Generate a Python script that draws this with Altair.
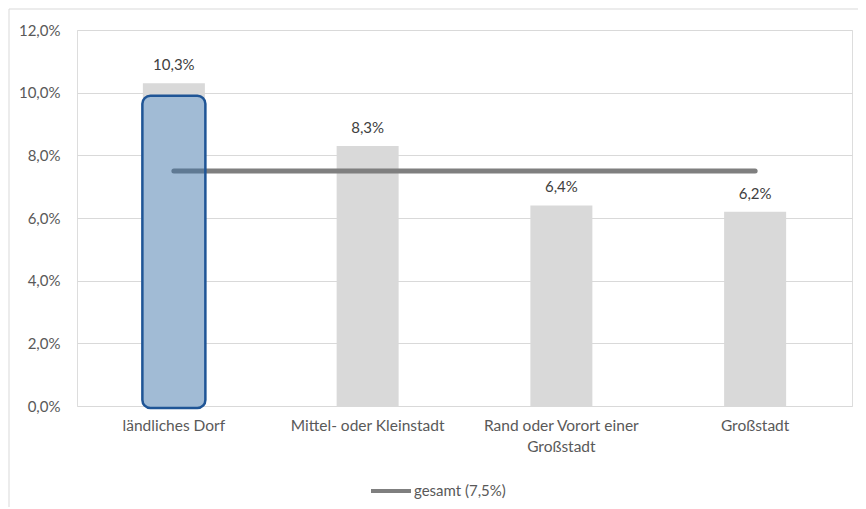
import altair as alt
import pandas as pd

categories = ["ländliches Dorf", "Mittel- oder Kleinstadt", "Rand oder Vorort einer Großstadt", "Großstadt"]
values = [10.3, 8.3, 6.4, 6.2]
labels = ["10,3%", "8,3%", "6,4%", "6,2%"]
gesamt = 7.5
gesamt_label = "gesamt (7,5%)"
highlight_cat = ["ländliches Dorf"]
highlight_top = [9.9]
highlight_bottom = [-0.06]
y_ticks = [0, 2, 4, 6, 8, 10, 12]

df = pd.DataFrame({"cat": categories, "val": values, "label": labels})
line_df = pd.DataFrame({"cat": categories, "val": [gesamt] * len(categories), "serie": [gesamt_label] * len(categories)})
hl_df = pd.DataFrame({"cat": highlight_cat, "top": highlight_top, "bottom": highlight_bottom})

FONT = "Lato"

x = alt.X("cat:N", sort=categories, title=None,
          scale=alt.Scale(paddingInner=0, paddingOuter=0),
          axis=alt.Axis(labelAngle=0, labelPadding=12, labelFontSize=15.5, labelColor="#595959",
                        labelFont=FONT, ticks=False, domain=False, grid=False, labelLineHeight=21,
                        labelExpr="datum.label == 'Rand oder Vorort einer Großstadt' ? ['Rand oder Vorort einer', 'Großstadt'] : datum.label"))
y_scale = alt.Scale(domain=[0, 12], nice=False)

bars = alt.Chart(df).mark_bar(width=62, color="#D9D9D9").encode(
    x=x,
    y=alt.Y("val:Q", scale=y_scale, title=None,
            axis=alt.Axis(values=y_ticks, labelPadding=17, labelFontSize=15, labelColor="#595959",
                          labelFont=FONT, ticks=False, domain=False, gridColor="#D9D9D9",
                          labelExpr="replace(format(datum.value, '.1f'), '.', ',') + '%'")),
)

text = alt.Chart(df).mark_text(baseline="bottom", dy=-10, fontSize=15, color="#404040", font=FONT).encode(
    x=alt.X("cat:N", sort=categories), y=alt.Y("val:Q", scale=y_scale), text="label:N"
)

line = alt.Chart(line_df).mark_line(strokeWidth=5, strokeCap="round").encode(
    x=alt.X("cat:N", sort=categories),
    y=alt.Y("val:Q", scale=y_scale),
    color=alt.Color("serie:N", scale=alt.Scale(range=["#7F7F7F"]), title=None,
                    legend=alt.Legend(orient="none", legendX=292, legendY=439, symbolType="stroke",
                                      symbolSize=1600, symbolStrokeWidth=4, labelFontSize=15,
                                      labelColor="#595959", labelFont=FONT, labelOffset=1)),
)

highlight = alt.Chart(hl_df).mark_bar(width=63, cornerRadius=8, fill="#0A6BCC", fillOpacity=0.27,
                                      stroke="#1F5596", strokeWidth=2.5).encode(
    x=alt.X("cat:N", sort=categories), y=alt.Y("top:Q", scale=y_scale), y2="bottom:Q"
)

border_top = alt.Chart(hl_df).mark_rule(color="#D9D9D9", strokeWidth=1).encode(
    x=alt.value(-68), x2=alt.value(790), y=alt.value(-21)
)
border_left = alt.Chart(hl_df).mark_rule(color="#D9D9D9", strokeWidth=1).encode(
    x=alt.value(-68), y=alt.value(-21), y2=alt.value(480)
)

chart = alt.layer(bars, line, highlight, text, border_top, border_left).properties(
    width=775, height=376,
    autosize=alt.AutoSizeParams(type="none"),
    padding={"left": 69, "top": 22, "right": 6, "bottom": 101},
).configure_view(stroke=None).configure(background="white")

chart.save("out.html", embed_options={"renderer": "svg", "actions": False})
